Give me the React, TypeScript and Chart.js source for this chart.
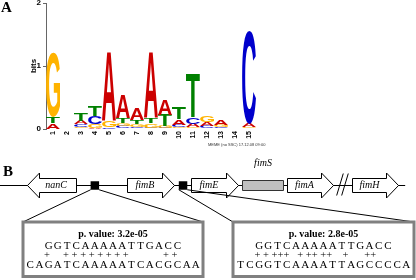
import { useEffect, useRef } from 'react';
import { Chart, registerables } from 'chart.js';

Chart.register(...registerables);

// ---------- Panel A: sequence logo data (bits per base at each motif position) ----------
const positions = ['1', '2', '3', '4', '5', '6', '7', '8', '9', '10', '11', '12', '13', '14', '15'];
const bitsA = [0.09, 0, 0.05, 0.02, 1.1, 0.36, 0.19, 1.05, 0.25, 0.09, 0.05, 0.06, 0.07, 0, 0.05];
const bitsC = [0, 0, 0.045, 0.13, 0.02, 0.04, 0.03, 0.02, 0.02, 0.04, 0.11, 0.04, 0.025, 0, 1.49];
const bitsG = [1.02, 0, 0.03, 0.06, 0.11, 0.05, 0.05, 0.07, 0.03, 0.03, 0.03, 0.11, 0.03, 0, 0.03];
const bitsT = [0.1, 0, 0.13, 0.17, 0.005, 0.08, 0.06, 0.08, 0.18, 0.19, 0.7, 0.01, 0.01, 0, 0];
const bitsMax = 2;
const logoFooter = 'MEME (no SSC) 17.12.08 09:00';

// ---------- Panel B: gene map data (relative positions along the locus, 0-100) ----------
const trackLabel = ['operon'];
const genes = ['nanC', 'fimB', 'fimE', 'fimS', 'fimA', 'fimH'];
const geneStart = [6.5, 30.5, 45.9, 58.2, 69.0, 84.6];
const geneEnd = [18.3, 41.8, 57.2, 68.0, 80.0, 95.7];
const geneStrand = [-1, 1, 1, 0, 1, 1];
const sitePos = [22.8, 44.0];
const backbone = [0, 97.4];
const breakPos = [82.3];
const insetStart = [5.5, 56.0];
const insetEnd = [48.7, 99.4];
const pValues = ['3.2e-05', '2.8e-05'];
const motifSeqs = ['GGTCAAAAATTGACC', 'GGTCAAAAATTGACC'];
const matchMarks = ['+     + + + + + + + +             + +', '+ + +++   + ++ ++    +      ++'];
const siteSeqs = ['CAGATCAAAAATCACGCAA', 'TCGGTCAAAATTAGCCCCA'];

const baseColors: Record<string, string> = { A: '#cc0000', C: '#0000cc', G: '#ffb300', T: '#008000' };
const SANS = '"Liberation Sans", Arial, sans-serif';
const SERIF = '"Liberation Serif", "Times New Roman", serif';

function drawGlyph(ctx: CanvasRenderingContext2D, ch: string, left: number, top: number, w: number, h: number, color: string) {
  ctx.save();
  ctx.font = 'bold 100px ' + SANS;
  ctx.textAlign = 'left';
  ctx.textBaseline = 'alphabetic';
  const m = ctx.measureText(ch);
  const x0 = -m.actualBoundingBoxLeft;
  const x1 = m.actualBoundingBoxRight;
  const y0 = -m.actualBoundingBoxAscent;
  const y1 = m.actualBoundingBoxDescent;
  ctx.translate(left, top);
  ctx.scale(w / (x1 - x0), h / (y1 - y0));
  ctx.fillStyle = color;
  ctx.fillText(ch, -x0, -y0);
  ctx.restore();
}

const logoPlugin = {
  id: 'logoLetters',
  afterDatasetsDraw(chart: any) {
    const ctx = chart.ctx;
    chart.data.datasets.forEach((ds: any, di: number) => {
      const meta = chart.getDatasetMeta(di);
      meta.data.forEach((el: any, i: number) => {
        const p = el.getProps(['x', 'y', 'base', 'width'], true);
        const top = Math.min(p.y, p.base);
        const h = Math.abs(p.base - p.y);
        if (h < 0.4) return;
        const ch = ds.letters[i];
        drawGlyph(ctx, ch, p.x - p.width / 2, top, p.width, h, baseColors[ch]);
      });
    });
  },
  afterDraw(chart: any) {
    const ctx = chart.ctx;
    ctx.save();
    ctx.fillStyle = '#000';
    ctx.font = 'bold 15px ' + SERIF;
    ctx.textAlign = 'left';
    ctx.textBaseline = 'alphabetic';
    ctx.fillText('A', 1, 12);
    ctx.font = '4px ' + SANS;
    ctx.fillStyle = '#333';
    ctx.fillText(logoFooter, chart.chartArea.right - 48, 146);
    ctx.restore();
  },
};

const diagramPlugin = {
  id: 'diagram',
  afterDatasetsDraw(chart: any) {
    const ctx: CanvasRenderingContext2D = chart.ctx;
    const xs = chart.scales.x;
    const area = chart.chartArea;
    const geneMeta = chart.getDatasetMeta(0);
    const siteMeta = chart.getDatasetMeta(1);
    ctx.save();

    // break marks
    breakPos.forEach((bp) => {
      const bx = xs.getPixelForValue(bp);
      const cy = geneMeta.data[0].getProps(['y'], true).y;
      ctx.strokeStyle = '#000';
      ctx.lineWidth = 1;
      [0, 5].forEach((dx) => {
        ctx.beginPath();
        ctx.moveTo(bx - 5.7 + dx, cy + 10);
        ctx.lineTo(bx + 0.9 + dx, cy - 12);
        ctx.stroke();
      });
    });

    // genes
    geneMeta.data.forEach((el: any, i: number) => {
      const p = el.getProps(['x', 'y', 'base', 'height'], true);
      const l = Math.round(Math.min(p.x, p.base)) + 0.5;
      const r = Math.round(Math.max(p.x, p.base)) + 0.5;
      const cy = p.y;
      const hb = p.height / 2;
      const head = 12;
      const hh = 12.5;
      ctx.lineWidth = 1;
      ctx.strokeStyle = '#000';
      let labelX = (l + r) / 2;
      let labelY = cy;
      if (geneStrand[i] === 0) {
        ctx.fillStyle = '#c0c0c0';
        ctx.strokeStyle = '#333';
        ctx.beginPath();
        ctx.rect(l, cy - 5, r - l, 10);
        ctx.fill();
        ctx.stroke();
        labelY = cy - 22;
      } else {
        ctx.fillStyle = '#fff';
        ctx.beginPath();
        if (geneStrand[i] > 0) {
          ctx.moveTo(l, cy - hb);
          ctx.lineTo(r - head, cy - hb);
          ctx.lineTo(r - head, cy - hh);
          ctx.lineTo(r, cy);
          ctx.lineTo(r - head, cy + hh);
          ctx.lineTo(r - head, cy + hb);
          ctx.lineTo(l, cy + hb);
          labelX = (l + r - head) / 2;
        } else {
          ctx.moveTo(r, cy - hb);
          ctx.lineTo(l + head, cy - hb);
          ctx.lineTo(l + head, cy - hh);
          ctx.lineTo(l, cy);
          ctx.lineTo(l + head, cy + hh);
          ctx.lineTo(l + head, cy + hb);
          ctx.lineTo(r, cy + hb);
          labelX = (l + head + r) / 2 - 2;
        }
        ctx.closePath();
        ctx.fill();
        ctx.stroke();
      }
      ctx.fillStyle = '#000';
      ctx.font = 'italic 10px ' + SERIF;
      ctx.textAlign = 'center';
      ctx.textBaseline = 'middle';
      ctx.fillText(genes[i], labelX, labelY);
    });

    // "B"
    ctx.fillStyle = '#000';
    ctx.font = 'bold 15px ' + SERIF;
    ctx.textAlign = 'left';
    ctx.textBaseline = 'alphabetic';
    ctx.fillText('B', 3, 26);

    // insets
    const boxTop = area.bottom + 1;
    const boxH = 54.5;
    siteMeta.data.forEach((el: any, b: number) => {
      const sp = el.getProps(['x', 'y'], true);
      const half = 4.25;
      const x0 = Math.round(xs.getPixelForValue(insetStart[b]));
      const x1 = Math.round(xs.getPixelForValue(insetEnd[b]));
      ctx.strokeStyle = '#000';
      ctx.lineWidth = 1;
      ctx.beginPath();
      ctx.moveTo(sp.x - half, sp.y + half);
      ctx.lineTo(x0, boxTop);
      ctx.moveTo(sp.x + half, sp.y + half);
      ctx.lineTo(x1, boxTop);
      ctx.stroke();

      ctx.fillStyle = '#fff';
      ctx.fillRect(x0, boxTop, x1 - x0, boxH);
      ctx.strokeStyle = '#808080';
      ctx.lineWidth = 3;
      ctx.strokeRect(x0, boxTop, x1 - x0, boxH);

      const cx = (x0 + x1) / 2;
      ctx.fillStyle = '#000';
      ctx.textAlign = 'center';
      ctx.textBaseline = 'alphabetic';
      ctx.font = 'bold 10px ' + SERIF;
      ctx.fillText('p. value: ' + pValues[b], cx, boxTop + 15);

      const step = 9.2;
      ctx.font = '11px ' + SERIF;
      const m = motifSeqs[b];
      const start1 = cx - (m.length * step) / 2;
      for (let i = 0; i < m.length; i++) ctx.fillText(m[i], start1 + (i + 0.5) * step, boxTop + 27.3);
      const s = siteSeqs[b];
      const start3 = cx - (s.length * step) / 2;
      for (let i = 0; i < s.length; i++) ctx.fillText(s[i], start3 + (i + 0.5) * step, boxTop + 46.3);

      ctx.font = '10.5px ' + SERIF;
      ctx.textAlign = 'left';
      ctx.fillText(matchMarks[b], start1, boxTop + 36);
    });
    ctx.restore();
  },
};

export default function App() {
  const ref1 = useRef<HTMLCanvasElement>(null);
  const ref2 = useRef<HTMLCanvasElement>(null);

  useEffect(() => {
    const cols = positions.map((_, i) =>
      [
        { b: 'A', v: bitsA[i] },
        { b: 'C', v: bitsC[i] },
        { b: 'G', v: bitsG[i] },
        { b: 'T', v: bitsT[i] },
      ].sort((p, q) => p.v - q.v)
    );
    const rankSets = [0, 1, 2, 3].map((r) => ({
      label: 'rank ' + (r + 1),
      data: cols.map((c) => c[r].v),
      letters: cols.map((c) => c[r].b),
      backgroundColor: 'rgba(0,0,0,0)',
      borderWidth: 0,
      barPercentage: 1,
      categoryPercentage: 1,
      stack: 'logo',
    }));

    const c1 = new Chart(ref1.current as HTMLCanvasElement, {
      type: 'bar',
      data: { labels: positions, datasets: rankSets as any },
      plugins: [logoPlugin],
      options: {
        animation: false,
        responsive: false,
        layout: { autoPadding: false, padding: { left: 0, right: 160, top: 3, bottom: 5 } },
        plugins: { legend: { display: false }, tooltip: { enabled: false } },
        scales: {
          x: {
            stacked: true,
            grid: { display: false, drawTicks: false },
            border: { display: false },
            ticks: {
              minRotation: 90,
              maxRotation: 90,
              autoSkip: false,
              padding: 2,
              color: '#000',
              font: { size: 7, weight: 'bold', family: SANS },
            },
            afterFit: (s: any) => {
              s.height = 16;
              s.paddingLeft = 0;
              s.paddingRight = 0;
            },
          },
          y: {
            stacked: true,
            min: 0,
            max: bitsMax,
            ticks: { stepSize: 1, padding: 2, color: '#000', font: { size: 8, weight: 'bold', family: SANS } },
            grid: { display: true, drawOnChartArea: false, tickLength: 3, color: '#666' },
            border: { display: true, color: '#666' },
            title: {
              display: true,
              text: 'bits',
              color: '#000',
              font: { size: 8, weight: 'bold', family: SANS },
              padding: { top: 29, bottom: 0 },
            },
            afterFit: (s: any) => {
              s.width = 46;
              s.paddingTop = 0;
              s.paddingBottom = 0;
            },
          },
        },
      } as any,
    });

    const c2 = new Chart(ref2.current as HTMLCanvasElement, {
      type: 'bar',
      data: {
        labels: trackLabel,
        datasets: [
          {
            type: 'bar',
            label: 'genes',
            data: genes.map((_, i) => ({ x: [geneStart[i], geneEnd[i]], y: trackLabel[0] })),
            backgroundColor: 'rgba(0,0,0,0)',
            borderWidth: 0,
            barThickness: 14,
            order: 1,
          },
          {
            type: 'line',
            label: 'sites',
            data: sitePos.map((p) => ({ x: p, y: trackLabel[0] })),
            showLine: false,
            pointStyle: 'rect',
            pointRadius: 6,
            pointBackgroundColor: '#000',
            pointBorderColor: '#000',
            pointBorderWidth: 0,
            order: 0,
          },
          {
            type: 'line',
            label: 'backbone',
            data: backbone.map((p) => ({ x: p, y: trackLabel[0] })),
            borderColor: '#000',
            borderWidth: 1,
            pointRadius: 0,
            order: 2,
          },
        ] as any,
      },
      plugins: [diagramPlugin],
      options: {
        animation: false,
        responsive: false,
        indexAxis: 'y',
        layout: { autoPadding: false, padding: { left: 0, right: 0, top: 0, bottom: 59 } },
        plugins: { legend: { display: false }, tooltip: { enabled: false } },
        scales: {
          x: { type: 'linear', min: 0, max: 100, display: false },
          y: { type: 'category', labels: trackLabel, display: false, offset: true },
        },
      } as any,
    });

    return () => {
      c1.destroy();
      c2.destroy();
    };
  }, []);

  return (
    <div style={{ position: 'fixed', left: 0, top: 0, width: 416, height: 280, background: '#fff', overflow: 'hidden' }}>
      <canvas ref={ref1} width={416} height={150} style={{ position: 'absolute', left: 0, top: 0 }} />
      <canvas ref={ref2} width={416} height={130} style={{ position: 'absolute', left: 0, top: 150 }} />
    </div>
  );
}
